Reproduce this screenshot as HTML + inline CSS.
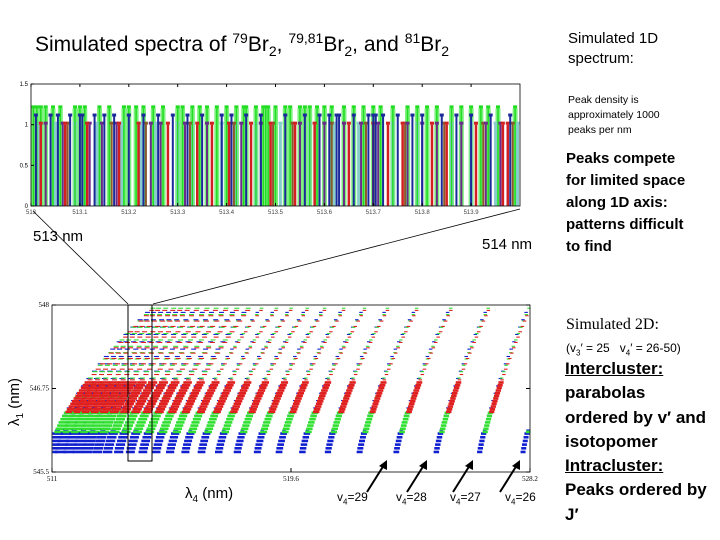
<!DOCTYPE html>
<html><head><meta charset="utf-8"><style>
body{margin:0;background:#fff;}
#wrap{position:relative;width:720px;height:540px;overflow:hidden;font-family:"Liberation Sans",sans-serif;}
.t{position:absolute;white-space:nowrap;color:#000;}
.b{font-weight:bold;}
svg{position:absolute;left:0;top:0;}
</style></head><body>
<div id="wrap">
<svg id="svg" width="720" height="540"></svg>
<div class="t" style="left:35px;top:30px;font-size:21px;">Simulated spectra of <sup style="font-size:14px">79</sup>Br<sub style="font-size:14px">2</sub>, <sup style="font-size:14px">79,81</sup>Br<sub style="font-size:14px">2</sub>, and <sup style="font-size:14px">81</sup>Br<sub style="font-size:14px">2</sub></div>
<div class="t" style="left:568px;top:29px;font-size:15px;line-height:20px;">Simulated 1D<br>spectrum:</div>
<div class="t" style="left:568px;top:93px;font-size:10.5px;line-height:15px;">Peak density is<br>approximately 1000<br>peaks per nm</div>
<div class="t b" style="left:566px;top:148px;font-size:15px;line-height:22px;">Peaks compete<br>for limited space<br>along 1D axis:<br>patterns difficult<br>to find</div>
<div class="t" style="left:33px;top:228px;font-size:15px;">513 nm</div>
<div class="t" style="left:482px;top:236px;font-size:15px;">514 nm</div>
<div class="t" style="left:566px;top:316px;font-size:16px;font-family:'Liberation Serif',serif;">Simulated 2D:</div>
<div class="t" style="left:566px;top:341px;font-size:12px;">(v<sub style="font-size:8px">3</sub>′ = 25 &nbsp; v<sub style="font-size:8px">4</sub>′ = 26-50)</div>
<div class="t b" style="left:565px;top:357px;font-size:17px;line-height:24.3px;"><u>Intercluster:</u><br>parabolas<br>ordered by v′ and<br>isotopomer<br><u>Intracluster:</u><br>Peaks ordered by<br>J′</div>
<div class="t" style="left:185px;top:485px;font-size:15px;">λ<sub style="font-size:10px">4</sub> (nm)</div>
<div class="t" style="left:-8px;top:392px;font-size:15px;transform:rotate(-90deg);">λ<sub style="font-size:10px">1</sub> (nm)</div>
<div class="t" style="left:337px;top:490px;font-size:12px;">v<sub style="font-size:8px">4</sub>=29</div>
<div class="t" style="left:396px;top:490px;font-size:12px;">v<sub style="font-size:8px">4</sub>=28</div>
<div class="t" style="left:450px;top:490px;font-size:12px;">v<sub style="font-size:8px">4</sub>=27</div>
<div class="t" style="left:505px;top:490px;font-size:12px;">v<sub style="font-size:8px">4</sub>=26</div>
</div>
<script>
// ---- top 1D spectrum data ----
const greenPeaks=[513.005,513.012,513.02,513.03,513.045,513.06,513.09,513.1,513.11,513.14,513.16,513.19,513.2,513.215,513.23,513.25,513.27,513.3,513.31,513.33,513.345,513.36,513.38,513.4,513.42,513.435,513.44,513.46,513.475,513.48,513.485,513.5,513.52,513.53,513.55,513.56,513.57,513.585,513.6,513.615,513.64,513.66,513.68,513.7,513.715,513.74,513.77,513.79,513.81,513.83,513.86,513.88,513.9,513.92,513.935,513.955,513.99];
const bluePeaks=[513.01,513.04,513.055,513.08,513.1,513.105,513.13,513.15,513.17,513.2,513.23,513.26,513.29,513.32,513.35,513.39,513.41,513.44,513.47,513.52,513.56,513.59,513.61,513.625,513.63,513.66,513.69,513.7,513.705,513.72,513.75,513.78,513.8,513.84,513.87,513.9,513.94,513.98];
const redPeaks=[513.02,513.07,513.115,513.18,513.22,513.28,513.34,513.37,513.405,513.45,513.49,513.54,513.58,513.65,513.7,513.73,513.76,513.82,513.85,513.91,513.965,513.975];
const purplePeaks=[513.03,513.065,513.12,513.145,513.175,513.245,513.265,513.315,513.36,513.43,513.47,513.55,513.6,513.64,513.675,513.71,513.77,513.8,513.83,513.88,513.93,513.96];
const cyanPeaks=[513.015,513.05,513.09,513.135,513.185,513.225,513.255,513.3,513.33,513.39,513.42,513.46,513.51,513.57,513.62,513.67,513.74,513.79,513.86,513.9,513.95,513.995];
const brownPeaks=[513.075,513.165,513.235,513.325,513.415,513.495,513.535,513.615,513.685,513.765,513.845,513.925,513.985];
const topYTicks=[0,0.5,1,1.5];
const topXTicks=[513,513.1,513.2,513.3,513.4,513.5,513.6,513.7,513.8,513.9];
// ---- bottom 2D clusters ----
const clusterX=[511.0,511.3,511.6,511.93,512.27,512.63,513.0,513.4,513.82,514.27,514.75,515.25,515.8,516.38,517.0,517.67,518.39,519.17,520.01,520.93,522.07,523.39,524.83,526.39,527.95];
const clusterSpread=[2.9,2.8,2.75,2.7,2.6,2.5,2.45,2.4,2.3,2.2,2.1,2.0,1.95,1.9,1.8,1.7,1.6,1.5,1.4,1.3,1.2,1.1,1.0,0.9,0.8];
const isoNames=['blue','green','red'];
const isoStartY=[545.8,546.1,546.4];
const botXTicks=[511,519.6,528.2];
const botYTicks=[545.5,546.75,548];

const NS='http://www.w3.org/2000/svg';
const svg=document.getElementById('svg');
function mk(tag,attrs,parent){const e=document.createElementNS(NS,tag);for(const k in attrs)e.setAttribute(k,attrs[k]);(parent||svg).appendChild(e);return e;}

// top axes
const TL=31,TR=520,TT=84,TB=206;
const tx=v=>TL+(v-513)/1*(TR-TL);
const ty=v=>TB-v/1.5*(TB-TT);
const topG=mk('g',{});


function peaks(arr,color,h,w,name){
  arr.forEach(v=>{const l=mk('line',{x1:tx(v),x2:tx(v),y1:ty(0),y2:ty(h),stroke:color,'stroke-width':w},topG);
  
  
  mk('rect',{x:tx(v)-2,y:ty(h)-3,width:4,height:3,fill:color},topG);});
}
peaks(greenPeaks,'#7cf07c',1.2,5,'green-peak');
peaks(cyanPeaks,'#88cccc',1.0,3,'cyan-peak');
peaks(greenPeaks,'#22dd22',1.2,1.5,'green-peak');
peaks(brownPeaks,'#8b5a2b',1.0,2,'brown-peak');
peaks(purplePeaks,'#6a2a8a',1.0,2,'purple-peak');
peaks(redPeaks,'#d02020',1.0,2.5,'red-peak');
peaks(bluePeaks,'#1a2a9a',1.1,2,'blue-peak');
mk('rect',{x:TL,y:TT,width:TR-TL,height:TB-TT,fill:'none',stroke:'#000','stroke-width':0.8});
topYTicks.forEach(v=>{mk('line',{x1:TL,x2:TL+3,y1:ty(v),y2:ty(v),stroke:'#000'});
 const t=mk('text',{x:TL-3,y:ty(v)+2,'font-size':6,'text-anchor':'end','font-family':'Liberation Sans'});t.textContent=v;});
topXTicks.forEach(v=>{mk('line',{x1:tx(v),x2:tx(v),y1:TB,y2:TB-3,stroke:'#000'});mk('line',{x1:tx(v),x2:tx(v),y1:TT,y2:TT+3,stroke:'#000'});
 const t=mk('text',{x:tx(v),y:TB+8,'font-size':6,'text-anchor':'middle','font-family':'Liberation Sans',fill:'#444'});t.textContent=v;});

// bottom axes
const BL=52,BR=530,BT=305,BB=472;
const bx=v=>BL+(v-511)/(528.2-511)*(BR-BL);
const by=v=>BB-(v-545.5)/2.5*(BB-BT);
const cols={blue:'#1020d0',green:'#30e030',red:'#e02020'};
const botG=mk('g',{});


clusterX.forEach((cx,ci)=>{
  const sp=clusterSpread[ci];
  const leftness=1-ci/24;
  isoNames.forEach((iso,ii)=>{
    const y0=isoStartY[ii];
    const dl=(ii===2?0.45:0.33);
    const dw=2.5+3*leftness;
    const n=40;
    for(let k=0;k<n;k++){
      const yv=y0+k*(548-y0)/n;
      const t=(yv-545.8)/2.2;
      const xv=cx+0.4*(yv-545.8)+sp*Math.pow(t,1.6)+ii*0.04;
      const dense=(yv-y0)<dl;
      const px=bx(xv),py=by(yv);
      if(px>BR-1) continue;
      const x1=Math.max(px-dw,BL+0.5);
      const w=px+dw-x1; if(w<=0) continue;
      if(dense){
        const r=mk('rect',{x:x1,y:py-1.3,width:w,height:2.6,fill:cols[iso]},botG);
        if(k===0){}
      } else {
        if((k+ii)%2) continue;
        mk('rect',{x:x1+1,y:py-0.5,width:Math.min(w,leftness>0.5?5:3.5),height:1.1,fill:cols[iso]},botG);
      }
    }
  });
});
mk('rect',{x:BL,y:BT,width:BR-BL,height:BB-BT,fill:'none',stroke:'#000','stroke-width':0.8});
mk('rect',{x:BR+0.5,y:BT-2,width:30,height:BB-BT+4,fill:'#fff'});
botYTicks.forEach(v=>{mk('line',{x1:BL,x2:BL+4,y1:by(v),y2:by(v),stroke:'#000'});mk('line',{x1:BR,x2:BR-4,y1:by(v),y2:by(v),stroke:'#000'});
 const t=mk('text',{x:BL-3,y:by(v)+2,'font-size':7,'text-anchor':'end','font-family':'Liberation Serif'});t.textContent=v;});
botXTicks.forEach(v=>{mk('line',{x1:bx(v),x2:bx(v),y1:BB,y2:BB-4,stroke:'#000'});
 const t=mk('text',{x:bx(v),y:BB+9,'font-size':7,'text-anchor':'middle','font-family':'Liberation Serif'});t.textContent=v;});
// zoom box and callout lines
const zb=mk('rect',{x:128,y:305,width:24,height:156,fill:'none',stroke:'#000','stroke-width':1});


mk('line',{x1:33,y1:211,x2:128,y2:304,stroke:'#000','stroke-width':0.8});
mk('line',{x1:520,y1:209,x2:153,y2:304,stroke:'#000','stroke-width':0.8});
// arrows
[367,407,453,500].forEach(x0=>{
  const a=mk('line',{x1:x0,y1:492,x2:x0+17,y2:465,stroke:'#000','stroke-width':2});
  
  
  mk('polygon',{points:`${x0+20},${460} ${x0+12},${466} ${x0+20},${470}`,fill:'#000'});
});
</script>
</body></html>
